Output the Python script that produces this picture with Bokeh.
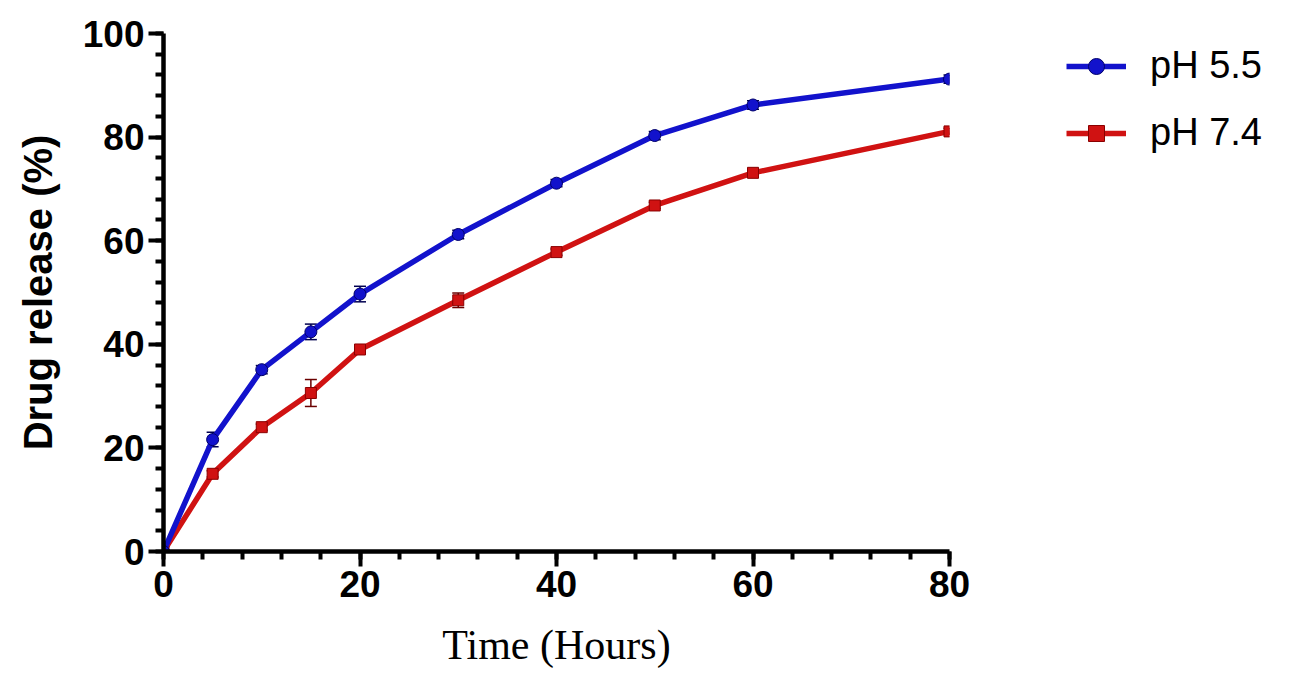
from bokeh.plotting import figure
from bokeh.models import ColumnDataSource, Whisker, Legend, LegendItem, Range1d, FixedTicker
from bokeh.embed import file_html
from bokeh.resources import INLINE

# ---- data ----
time_hours = [0, 5, 10, 15, 20, 30, 40, 50, 60, 80]
release_ph55 = [0, 21.6, 35.1, 42.4, 49.7, 61.2, 71.1, 80.3, 86.2, 91.2]
error_ph55 = [0, 1.4, 0.8, 1.5, 1.5, 0.8, 0.7, 0.8, 0.8, 0.8]
release_ph74 = [0, 15.0, 24.0, 30.6, 39.0, 48.5, 57.8, 66.8, 73.1, 81.1]
error_ph74 = [0, 0.6, 0.6, 2.6, 0.6, 1.4, 0.6, 0.6, 0.6, 0.6]
series_labels = ["pH 5.5", "pH 7.4"]
x_ticks = [0, 20, 40, 60, 80]
y_ticks = [0, 20, 40, 60, 80, 100]

BLUE = "#1212cc"
RED = "#d01212"

p = figure(frame_width=786, frame_height=518, output_backend="svg", toolbar_location=None,
           x_range=Range1d(0, 80), y_range=Range1d(0, 100),
           min_border_left=163, min_border_right=0, min_border_top=33, min_border_bottom=127)
p.outline_line_color = None
p.xgrid.visible = False
p.ygrid.visible = False
p.background_fill_color = "white"
p.border_fill_color = "white"

for ax in (p.xaxis[0], p.yaxis[0]):
    ax.axis_line_width = 4.5
    ax.axis_line_color = "black"
    ax.major_tick_line_width = 4
    ax.minor_tick_line_width = 4
    ax.major_tick_line_color = "black"
    ax.minor_tick_line_color = "black"
    ax.major_tick_out = 15
    ax.major_tick_in = 0
    ax.minor_tick_out = 8
    ax.minor_tick_in = 0
    ax.major_label_text_font = "Liberation Sans"
    ax.major_label_text_font_style = "bold"
    ax.major_label_text_font_size = "37px"
    ax.major_label_text_color = "black"
    ax.axis_label_text_color = "black"

p.xaxis.ticker = FixedTicker(ticks=x_ticks, minor_ticks=list(range(0, 81, 4)))
p.yaxis.ticker = FixedTicker(ticks=y_ticks, minor_ticks=list(range(0, 101, 4)))
p.xaxis.major_label_standoff = 4
p.yaxis.major_label_standoff = 4

p.xaxis.axis_label = "Time (Hours)"
p.xaxis.axis_label_text_font = "Liberation Serif"
p.xaxis.axis_label_text_font_style = "normal"
p.xaxis.axis_label_text_font_size = "42px"
p.xaxis.axis_label_standoff = 22

p.yaxis.axis_label = "Drug release (%)"
p.yaxis.axis_label_text_font = "Liberation Sans"
p.yaxis.axis_label_text_font_style = "bold"
p.yaxis.axis_label_text_font_size = "40px"
p.yaxis.axis_label_standoff = 20

src55 = ColumnDataSource(dict(x=time_hours, y=release_ph55,
                              lo=[v - e for v, e in zip(release_ph55, error_ph55)],
                              hi=[v + e for v, e in zip(release_ph55, error_ph55)]))
src74 = ColumnDataSource(dict(x=time_hours, y=release_ph74,
                              lo=[v - e for v, e in zip(release_ph74, error_ph74)],
                              hi=[v + e for v, e in zip(release_ph74, error_ph74)]))

l74 = p.line("x", "y", source=src74, color=RED, line_width=5.5)
m74 = p.scatter("x", "y", source=src74, marker="square", size=11, fill_color=RED,
                line_color="#8a0000", line_width=1)
w74 = Whisker(base="x", upper="hi", lower="lo", source=src74, line_color="#6a0000", line_width=1.5)
for h in (w74.upper_head, w74.lower_head):
    h.line_color = "#6a0000"
    h.size = 12
    h.line_width = 1.5
p.add_layout(w74)

l55 = p.line("x", "y", source=src55, color=BLUE, line_width=5.5)
m55 = p.scatter("x", "y", source=src55, marker="circle", size=12, fill_color=BLUE,
                line_color="#00006a", line_width=1)
w55 = Whisker(base="x", upper="hi", lower="lo", source=src55, line_color="#000050", line_width=1.5)
for h in (w55.upper_head, w55.lower_head):
    h.line_color = "#000050"
    h.size = 12
    h.line_width = 1.5
p.add_layout(w55)

legend = Legend(items=[LegendItem(label=series_labels[0], renderers=[l55, m55]),
                       LegendItem(label=series_labels[1], renderers=[l74, m74])],
                location=(117, 397), orientation="vertical",
                padding=0, margin=0, spacing=24,
                glyph_width=60, glyph_height=40, label_height=40,
                label_standoff=24,
                label_text_font="Liberation Sans", label_text_font_size="38px",
                label_text_color="black",
                border_line_color=None, background_fill_alpha=0)
p.add_layout(legend, "right")

open("out.html", "w").write(file_html(p, INLINE))
